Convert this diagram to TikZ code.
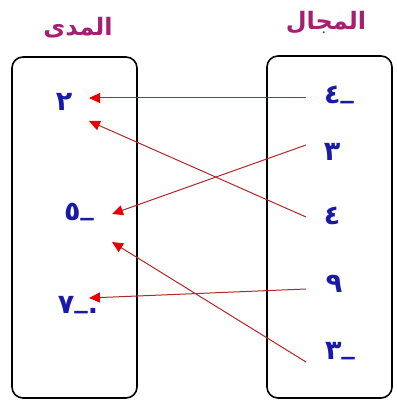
\documentclass[tikz,border=0pt]{standalone}
\usepackage{fontspec}
\usetikzlibrary{arrows.meta}
\newfontfamily\arabicfont[Script=Arabic]{DejaVu Sans}
\TeXXeTstate=1
\definecolor{titlecol}{HTML}{A52070}
\definecolor{numcol}{HTML}{1A1AA8}
\definecolor{linecol}{HTML}{B02828}
\definecolor{headcol}{HTML}{E80000}
\newcommand\mydash{\raisebox{0.2em}{\_}}
\tikzset{
  setbox/.style={draw=black, line width=1.6pt, rounded corners=11pt},
  title/.style={font=\arabicfont\bfseries\fontsize{24}{26}\selectfont, text=titlecol, inner sep=0pt},
  num/.style={font=\arabicfont\bfseries\fontsize{27}{29}\selectfont, text=numcol, inner sep=0pt},
  maparrow/.style={draw=linecol, line width=1pt, -{Triangle[length=11pt,width=10pt,fill=headcol,color=headcol]}}
}
\begin{document}
\begin{tikzpicture}[x=1pt,y=-1pt]
\useasboundingbox (0,0) rectangle (396,409);
\fill[white] (0,0) rectangle (396,409);
% sets
\draw[setbox] (12,57) rectangle (137,398);
\draw[setbox] (267,56) rectangle (392,398);
% titles
\node[title] (tR) at (78,28) {\beginR المدى\endR};
\node[title] (tD) at (326,23) {\beginR المجال\endR};
% range
\node[num] (r2) at (64,102) {٢};
\node[num] (r5) at (79,212) {٥\mydash};
\node[num] (r7) at (78,305) {٧\mydash.};
% domain
\node[num] (d1) at (339,95) {٤\mydash};
\node[num] (d2) at (332,152) {٣};
\node[num] (d3) at (332,216) {٤};
\node[num] (d4) at (334,284) {٩};
\node[num] (d5) at (340,351) {٣\mydash};
% arrow ends
\coordinate (s1) at (306,98);
\coordinate (s2) at (306,145);
\coordinate (s3) at (306,217);
\coordinate (s4) at (306,289);
\coordinate (s5) at (306,362);
\coordinate (e1) at (89,98);
\coordinate (e2) at (89,121);
\coordinate (e3) at (112,214);
\coordinate (e4) at (112,242);
\coordinate (e5) at (89,298);
\draw[maparrow] (s1) -- (e1);
\draw[maparrow] (s3) -- (e2);
\draw[maparrow] (s2) -- (e3);
\draw[maparrow] (s5) -- (e4);
\draw[maparrow] (s4) -- (e5);
\end{tikzpicture}
\end{document}
